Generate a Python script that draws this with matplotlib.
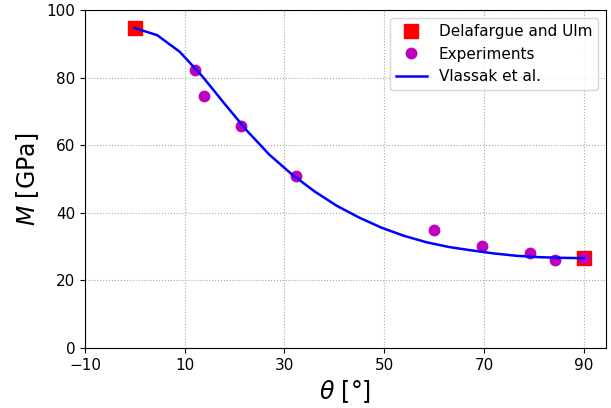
import numpy as np
import matplotlib.pyplot as plt

# Delafargue and Ulm
theta_du = [0, 90]
m_du = [94.7, 26.6]

# experiments
theta_exp = [12.0, 13.8, 21.3, 32.3, 59.9, 69.6, 79.2, 84.2, 90.0]
m_exp = [82.2, 74.6, 65.7, 50.9, 34.9, 30.2, 28.1, 26.0, 26.6]

# Vlassak et al. curve
theta_v = np.linspace(0, 90, 21)
m_v = [94.7, 92.6, 87.7, 80.5, 72.3, 64.3, 57.2, 51.4, 46.4, 42.1, 38.6,
       35.6, 33.2, 31.3, 29.9, 28.9, 28.0, 27.3, 26.9, 26.7, 26.6]

fig, ax = plt.subplots(figsize=(6.11, 4.08), dpi=100)
ax.plot(theta_du, m_du, 's', color='red', markersize=10, label='Delafargue and Ulm', zorder=3)
ax.plot(theta_exp, m_exp, 'o', color='m', markersize=7.5, label='Experiments', zorder=4)
ax.plot(theta_v, m_v, color='blue', lw=1.8, label='Vlassak et al.', zorder=5)

ax.set_xlim(-10, 94.5)
ax.set_ylim(0, 100)
ax.set_xticks([-10, 10, 30, 50, 70, 90])
ax.set_yticks([0, 20, 40, 60, 80, 100])
ax.tick_params(labelsize=11)
ax.grid(True, ls=':', color='darkgray')
ax.set_xlabel(r'$\theta$ [°]', fontsize=17)
ax.set_ylabel(r'$M$ [GPa]', fontsize=17)
ax.legend(loc='upper right', fontsize=11)

fig.subplots_adjust(left=0.139, right=0.992, top=0.975, bottom=0.147)
plt.savefig('out.png')
